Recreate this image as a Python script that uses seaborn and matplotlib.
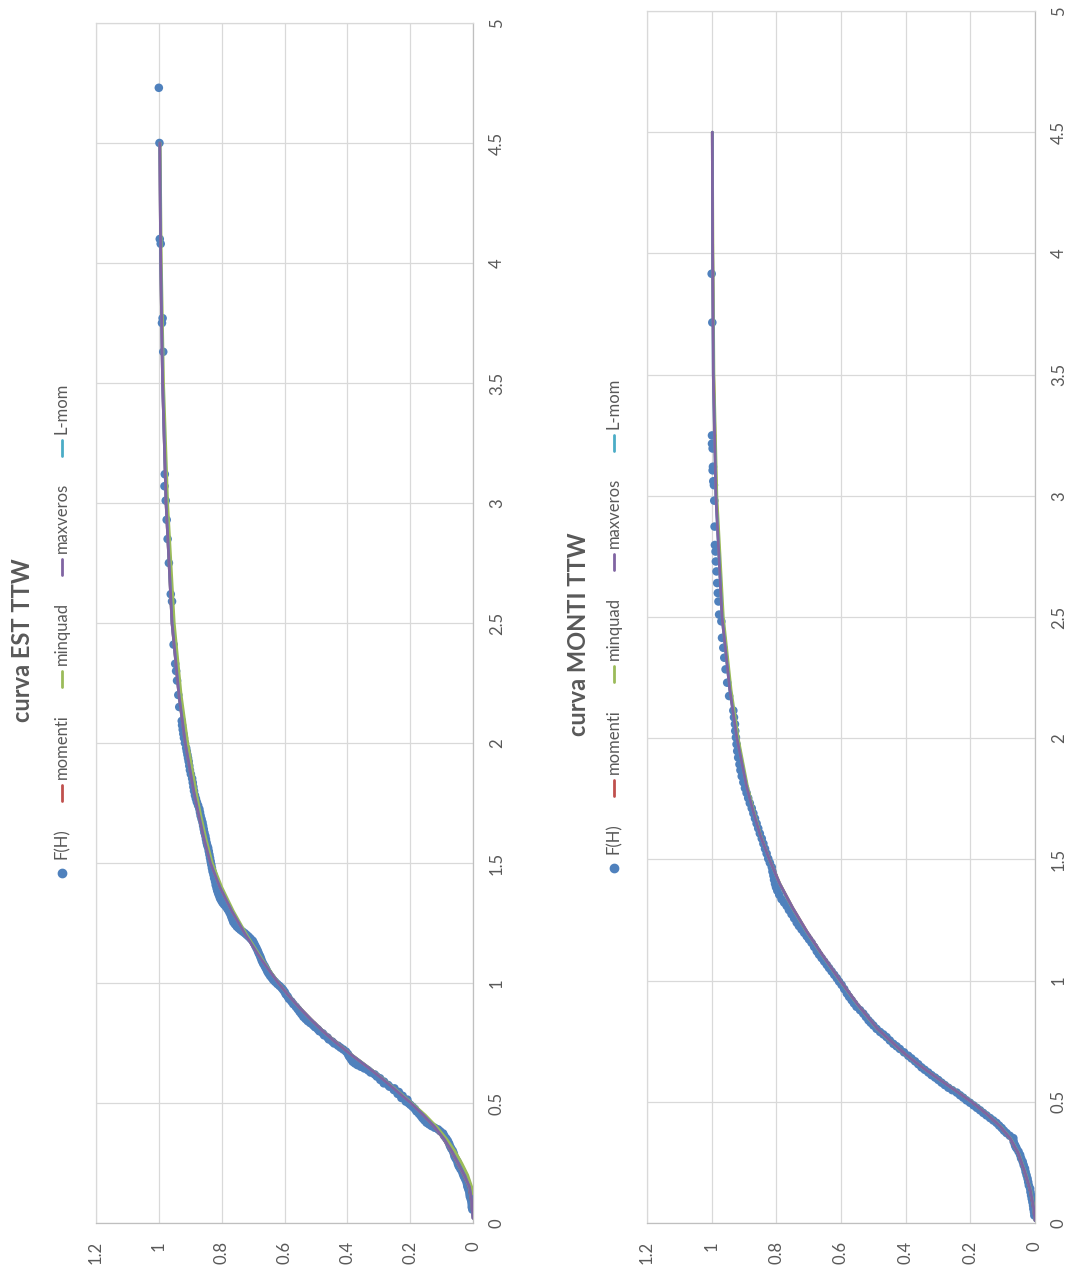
import numpy as np
import matplotlib
matplotlib.use("Agg")
import matplotlib.pyplot as plt
from matplotlib.lines import Line2D
import seaborn as sns

# ---------------------------------------------------------------- data
F_TICKS = [0, 0.2, 0.4, 0.6, 0.8, 1.0, 1.2]
F_LABELS = ["0", "0.2", "0.4", "0.6", "0.8", "1", "1.2"]
H_TICKS = [0, 0.5, 1, 1.5, 2, 2.5, 3, 3.5, 4, 4.5, 5]
H_LABELS = ["0", "0.5", "1", "1.5", "2", "2.5", "3", "3.5", "4", "4.5", "5"]

SERIES = ["F(H)", "momenti", "minquad", "maxveros", "L-mom"]

# --- EST TTW: empirical frequencies (H, F)
est_obs_h = [0.056, 0.066, 0.077, 0.088, 0.099, 0.110, 0.120, 0.131, 0.141, 0.152,
             0.162, 0.172, 0.183, 0.194, 0.204, 0.215, 0.225, 0.236, 0.246, 0.257,
             0.268, 0.278, 0.289, 0.300, 0.310, 0.320, 0.331, 0.342, 0.352, 0.362,
             0.373, 0.382, 0.390, 0.397, 0.404, 0.411, 0.418, 0.428, 0.437, 0.446,
             0.455, 0.465, 0.475, 0.484, 0.492, 0.499, 0.506, 0.514, 0.521, 0.530,
             0.538, 0.546, 0.554, 0.561, 0.568, 0.575, 0.582, 0.589, 0.596, 0.603,
             0.610, 0.619, 0.627, 0.636, 0.644, 0.651, 0.658, 0.665, 0.672, 0.679,
             0.686, 0.695, 0.704, 0.714, 0.723, 0.731, 0.739, 0.748, 0.756, 0.765,
             0.773, 0.782, 0.790, 0.799, 0.807, 0.816, 0.824, 0.833, 0.841, 0.850,
             0.859, 0.870, 0.880, 0.891, 0.901, 0.912, 0.923, 0.934, 0.944, 0.953,
             0.962, 0.971, 0.979, 0.988, 0.996, 1.005, 1.013, 1.022, 1.030, 1.040,
             1.049, 1.060, 1.070, 1.081, 1.092, 1.103, 1.113, 1.124, 1.134, 1.145,
             1.155, 1.166, 1.176, 1.185, 1.193, 1.200, 1.207, 1.214, 1.221, 1.228,
             1.235, 1.245, 1.254, 1.265, 1.275, 1.286, 1.296, 1.307, 1.317, 1.326,
             1.334, 1.343, 1.352, 1.363, 1.373, 1.384, 1.394, 1.408, 1.423, 1.437,
             1.451, 1.465, 1.479, 1.493, 1.507, 1.521, 1.535, 1.549, 1.563, 1.574,
             1.585, 1.599, 1.613, 1.627, 1.641, 1.655, 1.669, 1.683, 1.697, 1.711,
             1.725, 1.740, 1.754, 1.768, 1.782, 1.800, 1.817, 1.835, 1.852, 1.870,
             1.887, 1.905, 1.923, 1.937, 1.951, 1.965, 1.979, 2.000, 2.021, 2.038,
             2.056, 2.074, 2.092, 2.150, 2.200, 2.260, 2.300, 2.330, 2.410, 2.590,
             2.620, 2.750, 2.850, 2.930, 3.010, 3.070, 3.120, 3.630, 3.750, 3.770,
             4.080, 4.100, 4.500, 4.730]
est_obs_f = [0.002, 0.004, 0.004, 0.005, 0.007, 0.010, 0.011, 0.012, 0.015, 0.018,
             0.019, 0.021, 0.025, 0.029, 0.032, 0.035, 0.040, 0.045, 0.048, 0.050,
             0.055, 0.059, 0.061, 0.064, 0.069, 0.073, 0.076, 0.080, 0.085, 0.091,
             0.095, 0.104, 0.111, 0.122, 0.132, 0.140, 0.148, 0.155, 0.161, 0.166,
             0.172, 0.180, 0.185, 0.192, 0.199, 0.205, 0.214, 0.209, 0.228, 0.224,
             0.240, 0.236, 0.252, 0.250, 0.266, 0.270, 0.284, 0.283, 0.295, 0.296,
             0.306, 0.313, 0.326, 0.334, 0.346, 0.357, 0.368, 0.376, 0.383, 0.386,
             0.390, 0.395, 0.398, 0.404, 0.413, 0.422, 0.430, 0.442, 0.448, 0.459,
             0.463, 0.474, 0.478, 0.489, 0.494, 0.503, 0.509, 0.518, 0.526, 0.533,
             0.540, 0.546, 0.552, 0.558, 0.564, 0.572, 0.578, 0.586, 0.590, 0.596,
             0.599, 0.604, 0.609, 0.616, 0.623, 0.630, 0.636, 0.641, 0.646, 0.651,
             0.655, 0.659, 0.663, 0.668, 0.672, 0.675, 0.678, 0.682, 0.685, 0.689,
             0.693, 0.697, 0.701, 0.708, 0.714, 0.720, 0.726, 0.733, 0.740, 0.746,
             0.752, 0.758, 0.763, 0.766, 0.769, 0.772, 0.776, 0.781, 0.786, 0.792,
             0.797, 0.801, 0.805, 0.808, 0.811, 0.814, 0.816, 0.819, 0.821, 0.824,
             0.826, 0.829, 0.831, 0.833, 0.835, 0.837, 0.839, 0.841, 0.843, 0.846,
             0.848, 0.850, 0.852, 0.855, 0.857, 0.859, 0.861, 0.864, 0.867, 0.869,
             0.871, 0.875, 0.879, 0.882, 0.885, 0.888, 0.890, 0.892, 0.894, 0.898,
             0.901, 0.903, 0.905, 0.907, 0.909, 0.911, 0.913, 0.917, 0.920, 0.922,
             0.924, 0.926, 0.927, 0.935, 0.938, 0.942, 0.945, 0.948, 0.953, 0.958,
             0.962, 0.968, 0.972, 0.975, 0.978, 0.982, 0.981, 0.986, 0.990, 0.988,
             0.994, 0.997, 0.998, 1.000]

# --- EST TTW: fitted distributions
est_fit_h = [0.02, 0.10, 0.15, 0.20, 0.25, 0.30, 0.35, 0.40, 0.45, 0.50, 0.55, 0.60,
             0.65, 0.70, 0.75, 0.80, 0.85, 0.90, 0.95, 1.00, 1.10, 1.20, 1.30, 1.40,
             1.50, 1.60, 1.70, 1.80, 2.00, 2.20, 2.50, 3.00, 3.50, 4.00, 4.50]
est_momenti = [0.000, 0.006, 0.013, 0.030, 0.050, 0.070, 0.094, 0.123, 0.158, 0.197,
               0.241, 0.286, 0.334, 0.385, 0.432, 0.477, 0.516, 0.553, 0.588, 0.619,
               0.674, 0.723, 0.767, 0.805, 0.835, 0.856, 0.873, 0.889, 0.916, 0.936,
               0.958, 0.977, 0.988, 0.994, 0.997]
est_minquad_h = [0.12, 0.15, 0.20, 0.25, 0.30, 0.35, 0.40, 0.45, 0.50, 0.55, 0.60,
                 0.65, 0.70, 0.75, 0.80, 0.85, 0.90, 0.95, 1.00, 1.10, 1.20, 1.30,
                 1.40, 1.50, 1.60, 1.70, 1.80, 2.00, 2.20, 2.50, 3.00, 3.50, 4.00, 4.50]
est_minquad = [0.000, 0.004, 0.017, 0.036, 0.058, 0.084, 0.115, 0.152, 0.195, 0.240,
               0.286, 0.335, 0.386, 0.434, 0.479, 0.518, 0.555, 0.589, 0.619, 0.672,
               0.720, 0.763, 0.800, 0.830, 0.850, 0.867, 0.882, 0.908, 0.929, 0.951,
               0.972, 0.985, 0.992, 0.996]
est_maxveros = [0.000, 0.005, 0.011, 0.028, 0.048, 0.068, 0.092, 0.122, 0.158, 0.198,
                0.243, 0.288, 0.336, 0.387, 0.435, 0.479, 0.518, 0.555, 0.589, 0.620,
                0.675, 0.724, 0.768, 0.806, 0.836, 0.856, 0.873, 0.889, 0.916, 0.936,
                0.958, 0.977, 0.988, 0.994, 0.997]
est_lmom = [0.000, 0.005, 0.012, 0.029, 0.049, 0.069, 0.093, 0.122, 0.158, 0.198,
            0.242, 0.287, 0.335, 0.386, 0.434, 0.478, 0.517, 0.554, 0.589, 0.620,
            0.675, 0.724, 0.768, 0.806, 0.836, 0.856, 0.873, 0.889, 0.916, 0.936,
            0.958, 0.977, 0.988, 0.994, 0.997]

# --- MONTI TTW: empirical frequencies (H, F)
monti_obs_h = [0.031, 0.045, 0.058, 0.072, 0.086, 0.100, 0.114, 0.128, 0.142, 0.155,
               0.169, 0.183, 0.197, 0.211, 0.225, 0.239, 0.253, 0.267, 0.281, 0.295,
               0.308, 0.315, 0.322, 0.336, 0.350, 0.360, 0.371, 0.381, 0.392, 0.402,
               0.413, 0.423, 0.433, 0.444, 0.454, 0.465, 0.475, 0.485, 0.496, 0.506,
               0.517, 0.527, 0.538, 0.548, 0.558, 0.569, 0.579, 0.590, 0.600, 0.610,
               0.621, 0.632, 0.642, 0.655, 0.667, 0.679, 0.690, 0.704, 0.718, 0.729,
               0.739, 0.753, 0.767, 0.778, 0.788, 0.801, 0.815, 0.826, 0.836, 0.850,
               0.864, 0.878, 0.892, 0.906, 0.919, 0.933, 0.947, 0.965, 0.982, 0.996,
               1.010, 1.024, 1.038, 1.052, 1.065, 1.079, 1.093, 1.107, 1.121, 1.139,
               1.156, 1.170, 1.183, 1.197, 1.211, 1.225, 1.239, 1.257, 1.274, 1.291,
               1.308, 1.322, 1.336, 1.354, 1.371, 1.385, 1.399, 1.416, 1.433, 1.450,
               1.468, 1.486, 1.503, 1.524, 1.544, 1.565, 1.586, 1.607, 1.628, 1.648,
               1.669, 1.690, 1.711, 1.732, 1.753, 1.774, 1.794, 1.818, 1.843, 1.868,
               1.892, 1.920, 1.947, 1.975, 2.003, 2.030, 2.058, 2.086, 2.114, 2.174,
               2.229, 2.284, 2.332, 2.373, 2.414, 2.482, 2.510, 2.564, 2.599, 2.640,
               2.688, 2.729, 2.770, 2.797, 2.873, 2.980, 3.044, 3.060, 3.105, 3.120,
               3.195, 3.215, 3.249, 3.715, 3.916]
monti_obs_f = [0.002, 0.003, 0.005, 0.006, 0.008, 0.010, 0.012, 0.014, 0.015, 0.019,
               0.021, 0.023, 0.026, 0.029, 0.031, 0.035, 0.038, 0.043, 0.046, 0.051,
               0.057, 0.060, 0.062, 0.066, 0.067, 0.078, 0.088, 0.096, 0.103, 0.111,
               0.119, 0.129, 0.139, 0.150, 0.160, 0.170, 0.180, 0.190, 0.201, 0.212,
               0.222, 0.232, 0.242, 0.256, 0.268, 0.279, 0.289, 0.299, 0.309, 0.320,
               0.330, 0.341, 0.351, 0.361, 0.371, 0.382, 0.392, 0.405, 0.418, 0.428,
               0.438, 0.449, 0.459, 0.469, 0.479, 0.490, 0.500, 0.508, 0.515, 0.523,
               0.531, 0.541, 0.552, 0.560, 0.567, 0.575, 0.582, 0.590, 0.598, 0.606,
               0.613, 0.621, 0.629, 0.637, 0.644, 0.652, 0.660, 0.668, 0.675, 0.683,
               0.691, 0.699, 0.706, 0.714, 0.722, 0.730, 0.737, 0.745, 0.753, 0.761,
               0.768, 0.776, 0.784, 0.791, 0.797, 0.801, 0.804, 0.807, 0.809, 0.812,
               0.814, 0.820, 0.825, 0.830, 0.835, 0.840, 0.845, 0.851, 0.856, 0.861,
               0.866, 0.871, 0.876, 0.882, 0.887, 0.892, 0.897, 0.902, 0.907, 0.911,
               0.914, 0.918, 0.921, 0.923, 0.925, 0.927, 0.928, 0.931, 0.933, 0.946,
               0.952, 0.957, 0.961, 0.964, 0.968, 0.970, 0.977, 0.979, 0.981, 0.983,
               0.985, 0.987, 0.988, 0.990, 0.991, 0.992, 0.993, 0.995, 0.997, 0.996,
               0.997, 0.999, 0.999, 0.998, 1.000]

# --- MONTI TTW: fitted distributions
monti_fit_h = [0.01, 0.07, 0.14, 0.21, 0.29, 0.35, 0.40, 0.45, 0.50, 0.55, 0.60, 0.65,
               0.70, 0.80, 0.90, 1.00, 1.10, 1.20, 1.30, 1.40, 1.50, 1.60, 1.70, 1.80,
               2.00, 2.20, 2.50, 3.00, 3.50, 4.00, 4.50]
monti_momenti = [0.000, 0.006, 0.016, 0.032, 0.053, 0.078, 0.109, 0.150, 0.197, 0.250,
                 0.304, 0.356, 0.404, 0.486, 0.547, 0.602, 0.654, 0.704, 0.749, 0.789,
                 0.821, 0.849, 0.871, 0.891, 0.921, 0.943, 0.967, 0.986, 0.994, 0.997,
                 0.998]
monti_minquad = [0.000, 0.004, 0.014, 0.030, 0.051, 0.076, 0.107, 0.148, 0.195, 0.249,
                 0.305, 0.357, 0.406, 0.488, 0.549, 0.604, 0.656, 0.706, 0.751, 0.790,
                 0.822, 0.849, 0.870, 0.889, 0.918, 0.940, 0.964, 0.984, 0.993, 0.996,
                 0.998]
monti_maxveros = [0.000, 0.005, 0.015, 0.031, 0.052, 0.077, 0.108, 0.149, 0.196, 0.250,
                  0.305, 0.357, 0.405, 0.487, 0.548, 0.603, 0.655, 0.705, 0.750, 0.790,
                  0.822, 0.850, 0.872, 0.892, 0.922, 0.944, 0.968, 0.987, 0.995, 0.997,
                  0.998]
monti_lmom = [0.000, 0.005, 0.015, 0.031, 0.052, 0.077, 0.108, 0.149, 0.196, 0.250,
              0.305, 0.357, 0.405, 0.487, 0.548, 0.603, 0.655, 0.705, 0.750, 0.790,
              0.822, 0.850, 0.872, 0.892, 0.922, 0.944, 0.968, 0.987, 0.995, 0.997,
              0.998]

# ---------------------------------------------------------------- style
BLUE = "#4F81BD"
COLORS = {"momenti": "#C0504D", "minquad": "#9BBB59",
          "maxveros": "#8064A2", "L-mom": "#4BACC6"}
TXT = "#595959"
GRID = "#D9D9D9"

sns.set_style("white")
plt.rcParams["font.family"] = ["Lato", "DejaVu Sans"]

W, H = 1071, 1269
fig = plt.figure(figsize=(W / 100, H / 100), dpi=100)
fig.patch.set_facecolor("white")


def rect(left, top, right, bottom):
    return [left / W, 1 - bottom / H, (right - left) / W, (bottom - top) / H]


def draw_panel(ax, obs_h, obs_f, fits):
    sns.scatterplot(x=np.array(obs_f), y=np.array(obs_h), ax=ax, color=BLUE,
                    s=38, edgecolor="none", linewidth=0, zorder=3, legend=False)
    for name in ["momenti", "minquad", "L-mom", "maxveros"]:
        hh, ff = fits[name]
        sns.lineplot(x=np.array(ff), y=np.array(hh), ax=ax, color=COLORS[name],
                     lw=2, sort=False, estimator=None, zorder=4, legend=False)
    ax.set_xlim(1.2, 0)
    ax.set_ylim(0, 5)
    ax.set_xticks(F_TICKS)
    ax.set_xticklabels(F_LABELS, rotation=90)
    ax.yaxis.tick_right()
    ax.set_yticks(H_TICKS)
    ax.set_yticklabels(H_LABELS, rotation=90, va="center")
    ax.set_xlabel("")
    ax.set_ylabel("")
    ax.grid(True, color=GRID, lw=0.9)
    ax.set_axisbelow(True)
    ax.tick_params(length=0, labelsize=12, labelcolor=TXT)
    ax.tick_params(axis="x", pad=13)
    ax.tick_params(axis="y", pad=11.5)
    for sp in ax.spines.values():
        sp.set_color(GRID)
        sp.set_linewidth(0.9)
    ax.spines["right"].set_color("#BFBFBF")
    ax.spines["bottom"].set_color("#BFBFBF")


def draw_legend(x_px, center_px):
    renderer = fig.canvas.get_renderer()
    sym, gap_in, gap_out = 18, 5, 26
    lengths = []
    for lab in SERIES:
        t = fig.text(0, 0, lab, fontsize=12, rotation=90)
        lengths.append(t.get_window_extent(renderer).height)
        t.remove()
    total = sum(sym + gap_in + L for L in lengths) + gap_out * (len(SERIES) - 1)
    y = center_px + total / 2
    fx = x_px / W
    for lab, L in zip(SERIES, lengths):
        if lab == "F(H)":
            fig.add_artist(Line2D([fx], [1 - (y - sym / 2) / H], marker="o", ms=6,
                                  color=BLUE, lw=0, transform=fig.transFigure))
        else:
            fig.add_artist(Line2D([fx, fx], [1 - (y - 1) / H, 1 - (y - sym + 1) / H],
                                  color=COLORS[lab], lw=2, transform=fig.transFigure))
        ty = y - sym - gap_in
        fig.text(fx, 1 - ty / H, lab, fontsize=12, color=TXT, rotation=90,
                 rotation_mode="anchor", ha="left", va="center")
        y = ty - L - gap_out


ax1 = fig.add_axes(rect(96, 23, 473, 1223))
draw_panel(ax1, est_obs_h, est_obs_f,
           {"momenti": (est_fit_h, est_momenti),
            "minquad": (est_minquad_h, est_minquad),
            "maxveros": (est_fit_h, est_maxveros),
            "L-mom": (est_fit_h, est_lmom)})

ax2 = fig.add_axes(rect(647, 11, 1035, 1223))
draw_panel(ax2, monti_obs_h, monti_obs_f,
           {"momenti": (monti_fit_h, monti_momenti),
            "minquad": (monti_fit_h, monti_minquad),
            "maxveros": (monti_fit_h, monti_maxveros),
            "L-mom": (monti_fit_h, monti_lmom)})

fig.text(23 / W, 1 - 640 / H, "curva EST TTW", fontsize=17, fontweight="bold",
         color=TXT, rotation=90, ha="center", va="center")
fig.text(578 / W, 1 - 634 / H, "curva MONTI TTW", fontsize=17, fontweight="bold",
         color=TXT, rotation=90, ha="center", va="center")

draw_legend(62, 632)
draw_legend(614, 627)

fig.savefig("out.png", dpi=100, facecolor="white")
